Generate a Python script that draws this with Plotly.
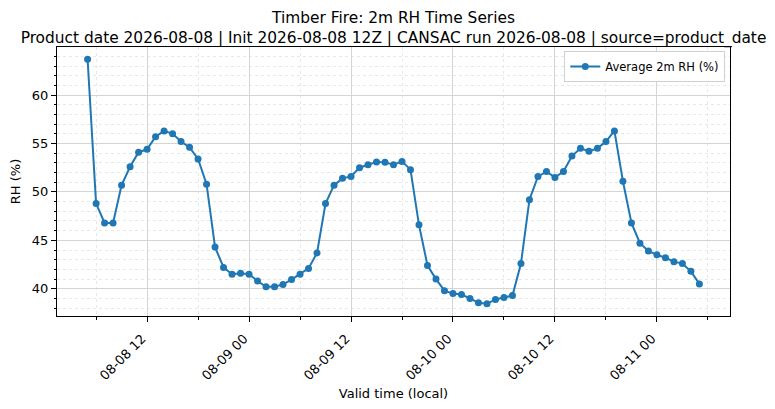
import pandas as pd
import plotly.graph_objects as go

# hourly valid times, local
valid_time = pd.date_range("2026-08-08 05:00", "2026-08-11 05:00", freq="h")

avg_rh = [
    63.7, 48.8, 46.8, 46.8, 50.7, 52.6, 54.1, 54.4, 55.7, 56.3, 56.0, 55.2,
    54.6, 53.4, 50.8, 44.3, 42.2, 41.5, 41.6, 41.5, 40.8, 40.2, 40.2, 40.45,
    40.95, 41.5, 42.1, 43.7, 48.8, 50.7, 51.4, 51.6, 52.5, 52.8, 53.1, 53.05,
    52.8, 53.15, 52.3, 46.6, 42.4, 41.0, 39.8, 39.5, 39.4, 39.0, 38.55, 38.45,
    38.9, 39.1, 39.3, 42.6, 49.2, 51.6, 52.1, 51.5, 52.1, 53.7, 54.5, 54.2,
    54.5, 55.2, 56.3, 51.1, 46.8, 44.7, 43.9, 43.5, 43.2, 42.8, 42.6, 41.8,
    40.5,
]

series_name = "Average 2m RH (%)"
title_line1 = "Timber Fire: 2m RH Time Series"
title_line2 = "Product date 2026-08-08 | Init 2026-08-08 12Z | CANSAC run 2026-08-08 | source=product_date"

blue = "#1f77b4"
font = "DejaVu Sans"

fig = go.Figure()
fig.add_trace(go.Scatter(
    x=valid_time,
    y=avg_rh,
    mode="lines+markers",
    name=series_name,
    line=dict(color=blue, width=2),
    marker=dict(color=blue, size=7),
))

# matplotlib-ish 5% margins
span = valid_time[-1] - valid_time[0]
pad = span * 0.05
ymin, ymax = min(avg_rh), max(avg_rh)
ypad = (ymax - ymin) * 0.05

axis_common = dict(
    showline=True, linecolor="black", linewidth=1, mirror=True,
    ticks="outside", ticklen=5, tickcolor="black", tickwidth=1,
    showgrid=True, gridcolor="#d4d4d4", gridwidth=1,
    zeroline=False, automargin=False,
    tickfont=dict(family=font, size=13, color="black"),
    title_font=dict(family=font, size=13, color="black"),
)

# page body has an 8px margin, so the figure is sized to fit inside the window
fig.update_layout(
    width=767, height=401,
    paper_bgcolor="white", plot_bgcolor="white",
    margin=dict(l=49, r=45, t=39, b=93),
    font=dict(family=font, color="black"),
    title=dict(
        text=f"{title_line1}<br>{title_line2}",
        x=0.5, xanchor="center", xref="paper",
        y=0.962, yanchor="top",
        font=dict(family=font, size=15.4, color="black"),
    ),
    showlegend=True,
    legend=dict(
        x=0.993, y=0.985, xanchor="right", yanchor="top",
        bgcolor="white", bordercolor="#d0d0d0", borderwidth=1,
        font=dict(family=font, size=11.5, color="black"),
        itemwidth=30, tracegroupgap=0,
    ),
    xaxis=dict(
        axis_common,
        type="date",
        range=[valid_time[0] - pad, valid_time[-1] + pad],
        tick0="2026-08-08 00:00", dtick=12 * 3600 * 1000,
        tickformat="%m-%d %H", tickangle=-45,
        ticklabelshift=-5, ticklabelstandoff=4,
        minor=dict(dtick=6 * 3600 * 1000, ticks="outside", ticklen=2.5,
                   tickcolor="black", showgrid=True, gridcolor="#e8e8e8",
                   griddash="dot"),
        title=dict(text="Valid time (local)", standoff=6),
    ),
    yaxis=dict(
        axis_common,
        range=[ymin - ypad, ymax + ypad],
        tick0=0, dtick=5,
        minor=dict(dtick=1, ticks="outside", ticklen=2.5, tickcolor="black",
                   showgrid=True, gridcolor="#e8e8e8", griddash="dot"),
        title=dict(text="RH (%)", standoff=8),
    ),
)

fig.write_html("out.html")
